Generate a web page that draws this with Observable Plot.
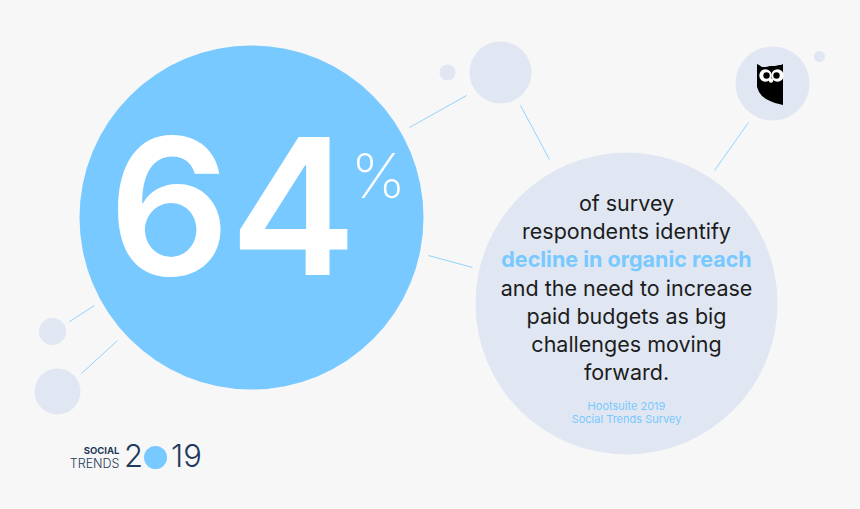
<!DOCTYPE html>
<html><head><meta charset="utf-8">
<script src="https://cdn.jsdelivr.net/npm/d3@7"></script>
<script src="https://cdn.jsdelivr.net/npm/@observablehq/plot@0.6"></script>
<style>html,body{margin:0;padding:0;background:#f7f7f7}svg{display:block}</style>
</head><body><div id="c"></div>
<script>
const paleBubbles = [
 {x:500,y:72,r:31},{x:447,y:72,r:8},{x:772,y:83,r:37},{x:819,y:56,r:5.5},
 {x:52,y:331,r:13.5},{x:57,y:391,r:23},{x:626,y:303,r:151}];
const bigBubble = [{x:251,y:217,r:172},{x:155,y:457,r:11.5}];
const connectors = [
 [409,127,466,95],[520,105,549,159],[748,122,714,170],[428,255,472,267],[69,321,94,305],[81,373,117,340]
].map(([x1,y1,x2,y2])=>({x1,y1,x2,y2}));
const bodyLines = [
 {t:"of survey",y:204},{t:"respondents identify",y:232},
 {t:"and the need to increase",y:289},{t:"paid budgets as big",y:317},
 {t:"challenges moving",y:345},{t:"forward.",y:373}];
const highlight = [{t:"decline in organic reach",y:260}];
const sourceLines = [{t:"Hootsuite 2019",y:406},{t:"Social Trends Survey",y:419}];
const owlBody = [[757,64,87],[759,65,92],[762,67,96],[766,67,99],[770,66,101],[775,66,103],[779,65,104],[781,65,104.5],[783,64,105]]
 .map(([x,y1,y2])=>({x,y1,y2}));
const owlEyes = [{x:765,y:75,r:6.2},{x:777,y:75,r:6.2},{x:770.5,y:80,r:2.2}];
const owlPupils = [{x:766,y:75,r:3.2},{x:776,y:75,r:3.2}];
const BLUE="#78c9ff", PALE="#e0e7f3", NAVY="#1f3a5c";
const F="Inter, 'Open Sans', sans-serif";
const circles=(d,fill)=>Plot.dot(d,{x:"x",y:"y",r:"r",fill,stroke:"none"});
const txt=(d,o)=>Plot.text(d,{x:o.x??626,y:"y",text:"t",textAnchor:"middle",fontFamily:F,...o.s});
const plot=Plot.plot({
 width:860,height:509,margin:0,
 x:{domain:[0,860],range:[0,860],axis:null},
 y:{domain:[0,509],range:[0,509],axis:null},
 r:{type:"identity"},
 style:{background:"#f7f7f7"},
 marks:[
  Plot.link(connectors,{x1:"x1",y1:"y1",x2:"x2",y2:"y2",stroke:BLUE,strokeWidth:0.8}),
  circles(paleBubbles,PALE),
  circles(bigBubble,BLUE),
  Plot.text([{t:"64"}],{x:()=>232,y:()=>214,text:"t",fontFamily:"Inter, sans-serif",fontWeight:600,fontSize:190,fill:"#fff"}),
  Plot.text([{t:"%"}],{x:()=>378,y:()=>178,text:"t",fontFamily:"Inter, sans-serif",fontWeight:200,fontSize:62,fill:"#fff"}),
  txt(bodyLines,{s:{fontSize:21.5,fontWeight:400,fill:"#1c1c1c"}}),
  txt(highlight,{s:{fontSize:21.5,fontWeight:700,fill:BLUE}}),
  txt(sourceLines,{s:{fontSize:11,fill:BLUE}}),
  Plot.areaY(owlBody,{x:"x",y1:"y1",y2:"y2",fill:"#000",curve:"linear"}),
  circles(owlEyes,"#fff"),
  circles(owlPupils,"#000"),
  Plot.text([{t:"SOCIAL"}],{x:()=>119,y:()=>450,text:"t",textAnchor:"end",fontFamily:F,fontWeight:700,fontSize:9.5,fill:NAVY,letterSpacing:"2.2px"}),
  Plot.text([{t:"TRENDS"}],{x:()=>119,y:()=>463,text:"t",textAnchor:"end",fontFamily:F,fontWeight:300,fontSize:12.5,fill:NAVY,letterSpacing:"2.4px"}),
  Plot.text([{t:"2"}],{x:()=>133,y:()=>457,text:"t",fontFamily:F,fontWeight:300,fontSize:31,fill:NAVY}),
  Plot.text([{t:"19"}],{x:()=>186,y:()=>457,text:"t",fontFamily:F,fontWeight:300,fontSize:31,fill:NAVY})
 ]
});
document.getElementById("c").append(plot);
</script></body></html>
